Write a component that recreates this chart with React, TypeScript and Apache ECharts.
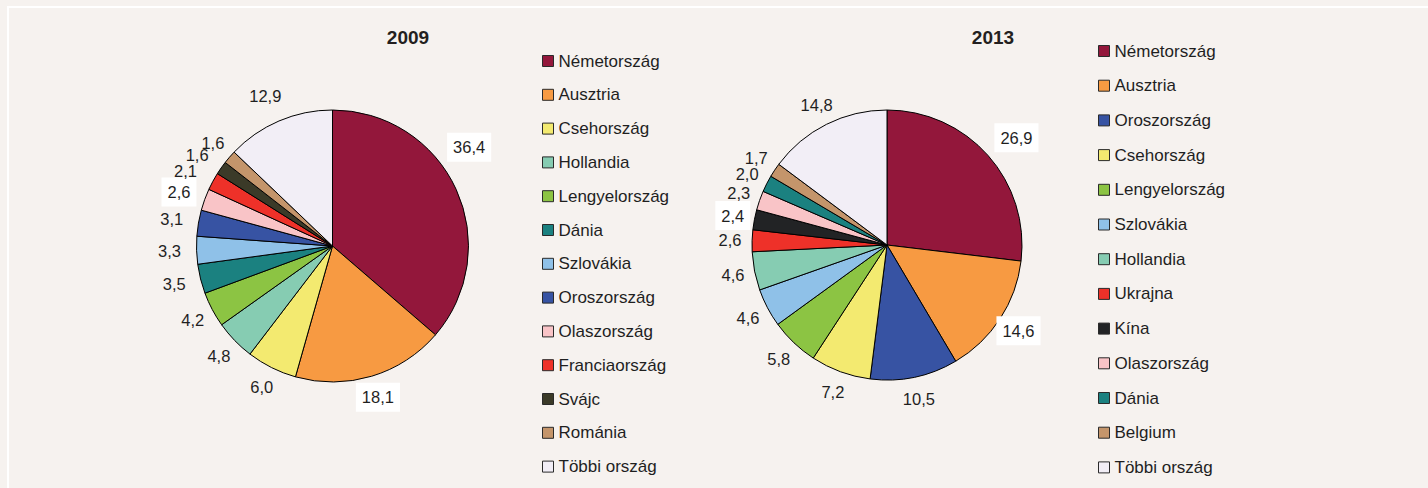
import React, { useEffect, useRef } from "react";
import * as echarts from "echarts";

const countries2009 = [
  "Németország", "Ausztria", "Csehország", "Hollandia", "Lengyelország", "Dánia",
  "Szlovákia", "Oroszország", "Olaszország", "Franciaország", "Svájc", "Románia", "Többi ország",
];
const values2009 = [36.4, 18.1, 6.0, 4.8, 4.2, 3.5, 3.3, 3.1, 2.6, 2.1, 1.6, 1.6, 12.9];

const countries2013 = [
  "Németország", "Ausztria", "Oroszország", "Csehország", "Lengyelország", "Szlovákia",
  "Hollandia", "Ukrajna", "Kína", "Olaszország", "Dánia", "Belgium", "Többi ország",
];
const values2013 = [26.9, 14.6, 10.5, 7.2, 5.8, 4.6, 4.6, 2.6, 2.4, 2.3, 2.0, 1.7, 14.8];

const titles = ["2009", "2013"];

const colorMap: Record<string, string> = {
  "Németország": "#93173b",
  "Ausztria": "#f79a42",
  "Csehország": "#f3ea70",
  "Hollandia": "#86ccb2",
  "Lengyelország": "#8cc443",
  "Dánia": "#1b8180",
  "Szlovákia": "#8fc1e8",
  "Oroszország": "#3753a3",
  "Olaszország": "#f9c4c7",
  "Franciaország": "#ee3129",
  "Ukrajna": "#ee3129",
  "Svájc": "#3b3a28",
  "Kína": "#222325",
  "Románia": "#c4956b",
  "Belgium": "#c4956b",
  "Többi ország": "#f2eef6",
};

const FONT = "'Liberation Sans', Arial, sans-serif";

const fmt = (v: number) => v.toFixed(1).replace(".", ",");

export default function App() {
  const ref = useRef<HTMLDivElement>(null);
  useEffect(() => {
    if (!ref.current) return;
    const chart = echarts.init(ref.current, undefined, { renderer: "svg" });

    const boxed2009 = new Set(["Németország", "Ausztria", "Olaszország"]);
    const boxed2013 = new Set(["Németország", "Ausztria", "Kína"]);
    const offsets2009: Record<string, number[]> = {
      "Németország": [-7, -33],
      "Franciaország": [-8, 0],
      "Svájc": [-6, 0],
      "Olaszország": [-5, 0],
      "Szlovákia": [-5, 0],
      "Oroszország": [-5, 0],
      "Dánia": [-5, 0],
      "Többi ország": [-5, -5],
    };
    const offsets2013: Record<string, number[]> = {
      "Németország": [12, -3],
    };

    const baseLabel = {
      show: true,
      position: "inside",
      fontFamily: FONT,
      fontSize: 16.5,
      color: "#1f1f1f",
    };

    const pieData = (names: string[], vals: number[]) =>
      names.map((n, i) => ({ name: n, value: vals[i], itemStyle: { color: colorMap[n] } }));

    const labelData = (names: string[], vals: number[], boxed: Set<string>, offs: Record<string, number[]>) =>
      names.map((n, i) => ({
        name: n,
        value: vals[i],
        label: {
          formatter: fmt(vals[i]),
          offset: offs[n] || [0, 0],
          ...(boxed.has(n) ? { backgroundColor: "#ffffff", padding: [6, 6] } : {}),
        },
      }));

    const mainPie = (center: number[], r: number, names: string[], vals: number[]) => ({
      type: "pie",
      center,
      radius: [0, r],
      startAngle: 90,
      clockwise: true,
      label: { show: false },
      labelLine: { show: false },
      itemStyle: { borderColor: "#000000", borderWidth: 1 },
      emphasis: { disabled: true },
      data: pieData(names, vals),
    });

    const labelPie = (center: number[], r0: number, r: number, names: string[], vals: number[], boxed: Set<string>, offs: Record<string, number[]>) => ({
      type: "pie",
      center,
      radius: [r0, r],
      startAngle: 90,
      clockwise: true,
      silent: true,
      avoidLabelOverlap: false,
      labelLayout: { hideOverlap: false },
      itemStyle: { color: "rgba(0,0,0,0)", borderWidth: 0 },
      label: baseLabel,
      labelLine: { show: false },
      emphasis: { disabled: true },
      data: labelData(names, vals, boxed, offs),
    });

    const legendData = (names: string[]) =>
      names.map((n) => ({ name: n, itemStyle: { color: colorMap[n], borderColor: "#2a2a2a", borderWidth: 1 } }));

    const legendBase = {
      orient: "vertical",
      icon: "rect",
      itemWidth: 11,
      itemHeight: 11,
      selectedMode: false,
      textStyle: { fontFamily: FONT, fontSize: 17, color: "#1f1f1f", lineHeight: 20 },
    };

    chart.setOption({
      animation: false,
      backgroundColor: "#f6f2ef",
      graphic: [
        { type: "rect", shape: { x: 7, y: 6, width: 1421, height: 2 }, style: { fill: "#ffffff" }, silent: true },
        { type: "rect", shape: { x: 7, y: 6, width: 2, height: 482 }, style: { fill: "#ffffff" }, silent: true },
        {
          type: "text", x: 408, y: 37,
          style: { text: titles[0], align: "center", verticalAlign: "middle", font: `bold 19px ${FONT}`, fill: "#231f20" },
        },
        {
          type: "text", x: 993, y: 37,
          style: { text: titles[1], align: "center", verticalAlign: "middle", font: `bold 19px ${FONT}`, fill: "#231f20" },
        },
      ],
      legend: [
        { ...legendBase, left: 537, top: 46, itemGap: 13.8, data: legendData(countries2009) },
        { ...legendBase, left: 1093, top: 36, itemGap: 14.7, data: legendData(countries2013) },
      ],
      series: [
        mainPie([332.5, 246], 136, countries2009, values2009),
        mainPie([887, 245], 135, countries2013, values2013),
        labelPie([332.5, 246], 136, 174, countries2009, values2009, boxed2009, offsets2009),
        labelPie([887, 245], 135, 173, countries2013, values2013, boxed2013, offsets2013),
      ],
    });
    return () => chart.dispose();
  }, []);
  return <div ref={ref} style={{ position: "fixed", left: 0, top: 0, width: 1428, height: 488 }} />;
}
